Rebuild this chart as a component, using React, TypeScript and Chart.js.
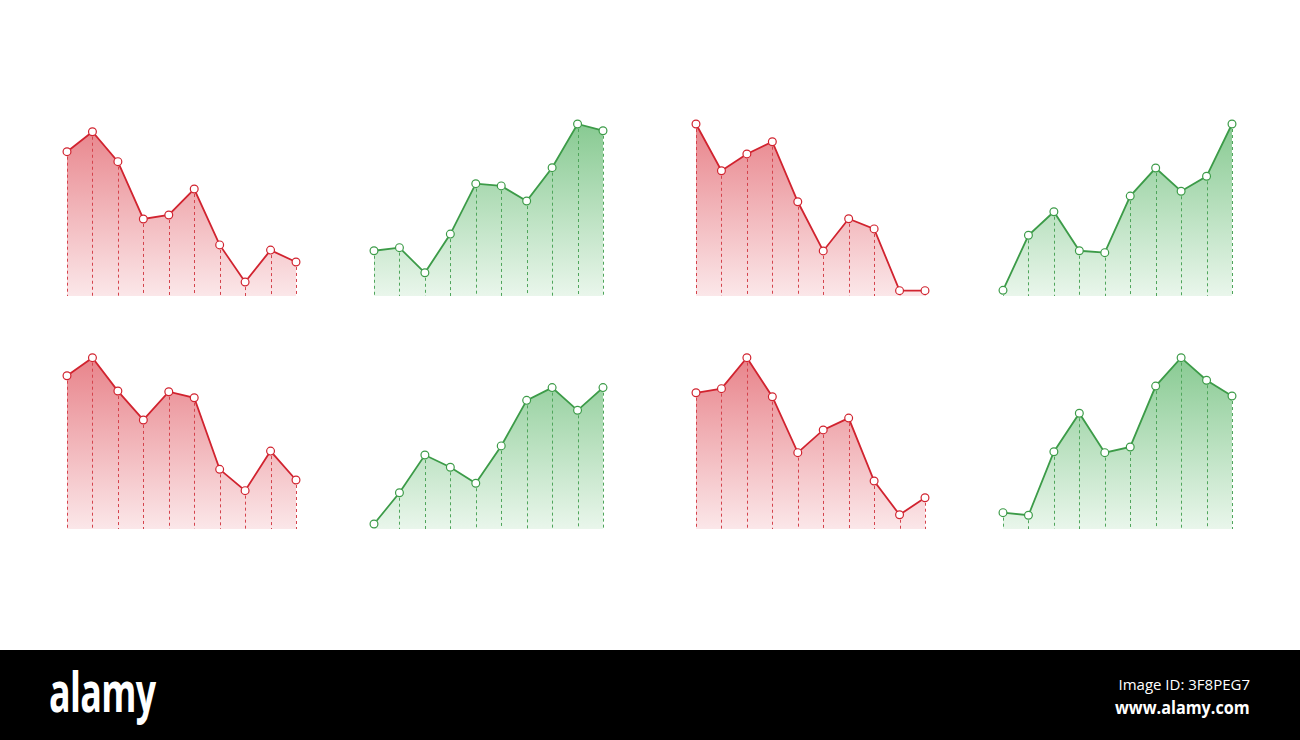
import React, { useEffect, useRef } from 'react';
import { Chart, registerables } from 'chart.js';

Chart.register(...registerables);

// ten steps per mini chart, values on a 0..100 scale
const steps = ['1', '2', '3', '4', '5', '6', '7', '8', '9', '10'];

const redA = [83.9, 95.5, 78.1, 44.8, 47.1, 62.2, 29.7, 8.1, 26.7, 19.8];
const greenA = [26.3, 28.1, 13.5, 36.0, 65.3, 64.0, 55.2, 74.6, 100, 96.1];
const redB = [100, 72.8, 82.6, 89.7, 54.8, 26.2, 44.9, 39.0, 3.1, 3.1];
const greenB = [3.3, 35.3, 49.0, 26.3, 25.2, 58.1, 74.4, 60.9, 69.6, 100];
const redC = [89.1, 99.6, 80.2, 63.4, 79.8, 76.3, 34.7, 22.3, 45.3, 28.5];
const greenC = [2.9, 21.1, 43.0, 35.9, 26.6, 48.3, 74.8, 82.2, 69.0, 82.2];
const redD = [79.2, 81.6, 99.6, 76.9, 44.4, 57.6, 64.5, 27.9, 8.3, 18.2];
const greenD = [9.5, 8.0, 44.9, 67.3, 44.4, 47.7, 83.1, 99.6, 86.5, 77.3];

const themes = {
    red: { line: '#d1232f', top: '#e8838a', bottom: '#fbe7e9', dash: '#d4434c' },
    green: { line: '#3c9b48', top: '#88ca92', bottom: '#e9f6eb', dash: '#4fa55b' },
};

const PAD = 8;

// dashed drop lines from each point down to the base
const dropLines = {
    id: 'dropLines',
    afterDatasetsDraw(chart: any, _args: any, opts: any) {
        const { ctx, chartArea } = chart;
        const meta = chart.getDatasetMeta(0);
        ctx.save();
        ctx.strokeStyle = opts.color;
        ctx.lineWidth = 1;
        ctx.setLineDash([3, 3]);
        meta.data.forEach((pt: any) => {
            const x = Math.round(pt.x) + 0.5;
            ctx.beginPath();
            ctx.moveTo(x, pt.y + 5);
            ctx.lineTo(x, chartArea.bottom);
            ctx.stroke();
        });
        ctx.restore();
    },
};

type MiniProps = {
    values: number[];
    theme: 'red' | 'green';
    left: number;
    top: number;
    width: number;
    height: number;
};

function MiniChart({ values, theme, left, top, width, height }: MiniProps) {
    const canvasRef = useRef<HTMLCanvasElement | null>(null);

    useEffect(() => {
        const canvas = canvasRef.current;
        if (!canvas) return;
        const t = themes[theme];
        const chart = new Chart(canvas, {
            type: 'line',
            data: {
                labels: steps,
                datasets: [
                    {
                        data: values,
                        borderColor: t.line,
                        borderWidth: 1.8,
                        tension: 0,
                        fill: 'start',
                        backgroundColor: (c: any) => {
                            const area = c.chart.chartArea;
                            if (!area) return t.top;
                            const g = c.chart.ctx.createLinearGradient(0, area.top, 0, area.bottom);
                            g.addColorStop(0, t.top);
                            g.addColorStop(1, t.bottom);
                            return g;
                        },
                        pointRadius: 3.9,
                        pointBorderWidth: 1.2,
                        pointBackgroundColor: '#ffffff',
                        pointBorderColor: t.line,
                        clip: false as any,
                    },
                ],
            },
            options: {
                animation: false,
                responsive: false,
                events: [],
                layout: { autoPadding: false, padding: { left: PAD, right: PAD, top: PAD, bottom: 0 } },
                scales: {
                    x: { display: false },
                    y: { display: false, min: 0, max: 100 },
                },
                plugins: {
                    legend: { display: false },
                    tooltip: { enabled: false },
                    dropLines: { color: t.dash },
                } as any,
            },
            plugins: [dropLines],
        });
        return () => chart.destroy();
    }, [values, theme]);

    return (
        <canvas
            ref={canvasRef}
            width={width + PAD * 2}
            height={height + PAD}
            style={{ position: 'absolute', left: left - PAD, top: top - PAD, width: width + PAD * 2, height: height + PAD }}
        />
    );
}

const cols = [67, 374, 696, 1003];
const rows = [124, 357];

export default function App() {
    const grid: { values: number[]; theme: 'red' | 'green' }[][] = [
        [
            { values: redA, theme: 'red' },
            { values: greenA, theme: 'green' },
            { values: redB, theme: 'red' },
            { values: greenB, theme: 'green' },
        ],
        [
            { values: redC, theme: 'red' },
            { values: greenC, theme: 'green' },
            { values: redD, theme: 'red' },
            { values: greenD, theme: 'green' },
        ],
    ];

    return (
        <div style={{ position: 'fixed', left: 0, top: 0, width: 1300, height: 740, background: '#fff', overflow: 'hidden' }}>
            {grid.map((row, r) =>
                row.map((cell, c) => (
                    <MiniChart key={`${r}-${c}`} values={cell.values} theme={cell.theme} left={cols[c]} top={rows[r]} width={229} height={172} />
                ))
            )}

            {/* stock banner */}
            <div style={{ position: 'absolute', left: 0, top: 650, width: 1300, height: 90, background: '#000', color: '#fff', fontFamily: '"Open Sans", "Liberation Sans", sans-serif' }}>
                <div style={{ position: 'absolute', left: 49, top: 8, fontSize: 56, fontWeight: 'bold', letterSpacing: -1, lineHeight: '64px', transform: 'scaleX(0.64)', transformOrigin: 'left top' }}>alamy</div>
                <div style={{ position: 'absolute', right: 50, top: 25, fontSize: 15, lineHeight: '18px', textAlign: 'right' }}>Image ID: 3F8PEG7</div>
                <div style={{ position: 'absolute', right: 50, top: 46, fontSize: 18, fontWeight: 'bold', lineHeight: '22px', textAlign: 'right', transform: 'scaleX(0.9)', transformOrigin: 'right top' }}>www.alamy.com</div>
            </div>
        </div>
    );
}
